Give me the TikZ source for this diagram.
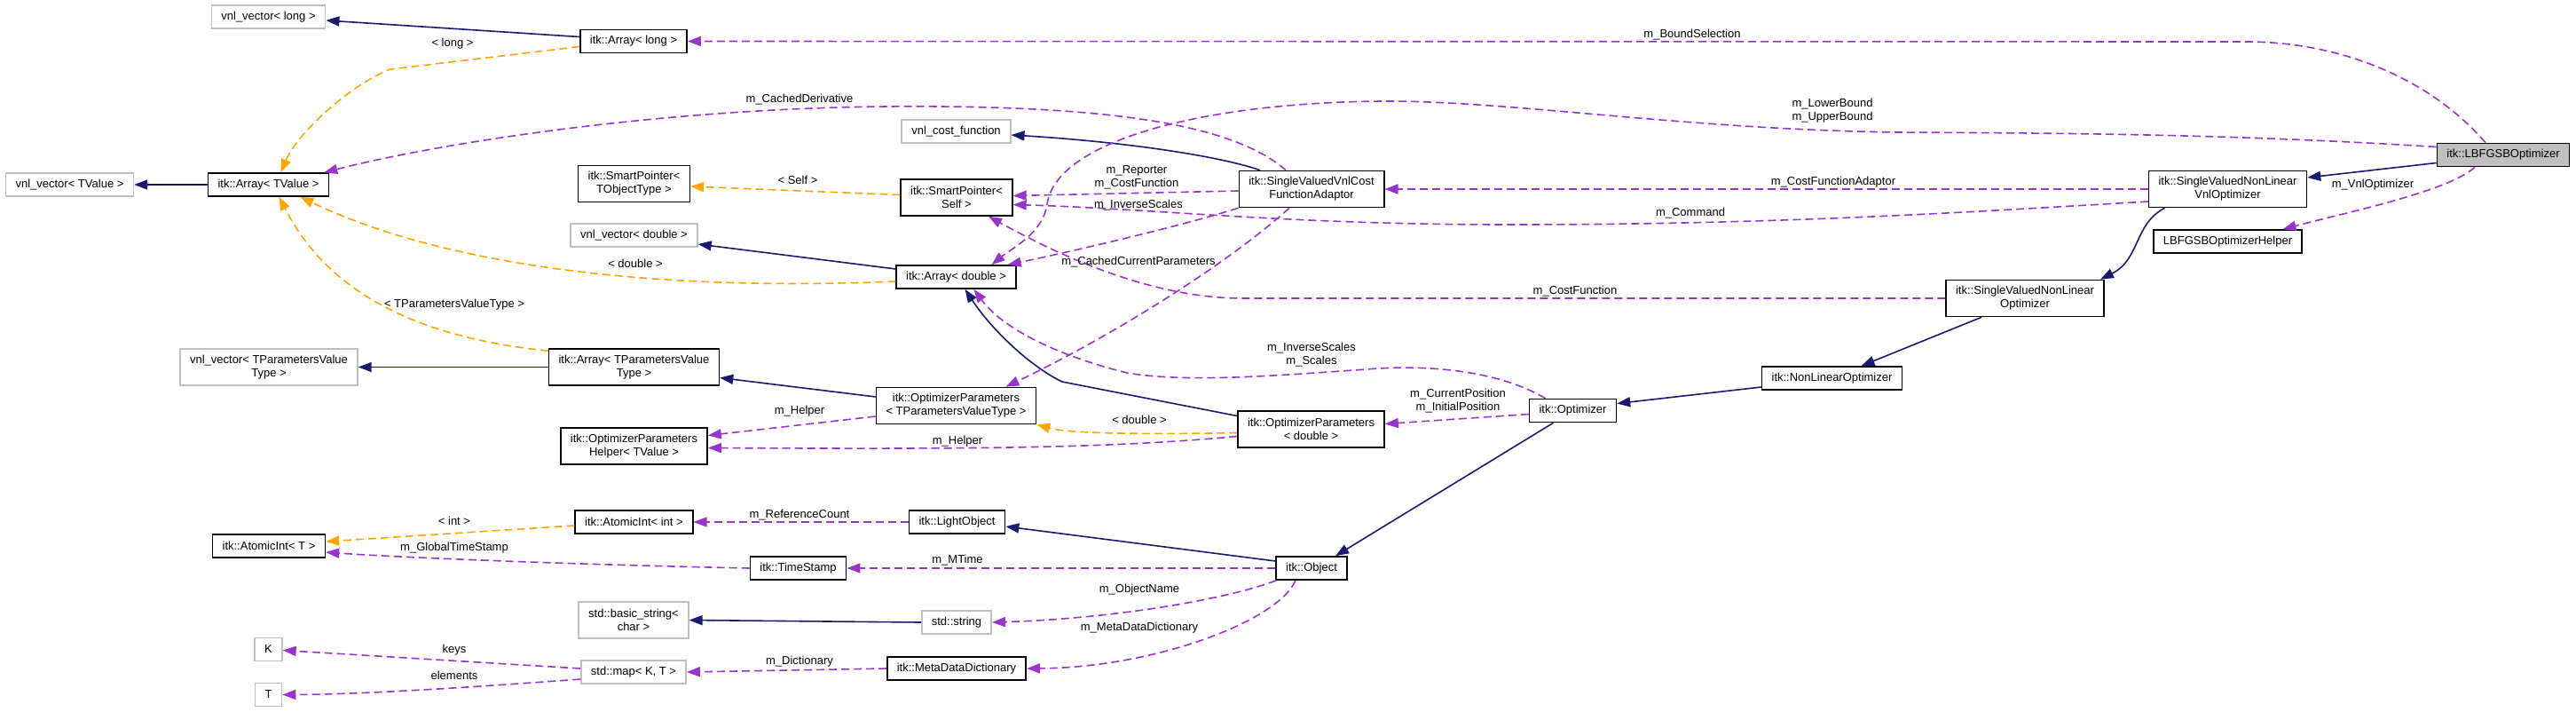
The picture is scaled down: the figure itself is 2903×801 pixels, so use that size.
\documentclass[tikz,border=0pt]{standalone}
\usepackage{fontspec}
\setmainfont{Liberation Sans}
\usetikzlibrary{arrows.meta,calc}
\definecolor{edgeblue}{HTML}{191970}
\definecolor{usepurple}{HTML}{9A32CD}
\definecolor{tplorange}{HTML}{FFA500}
\definecolor{boxgrey}{HTML}{BFBFBF}
\tikzset{
  cls/.style={draw=black, line width=1.6pt, fill=white, rectangle, align=center,
    inner xsep=11pt, inner ysep=5pt, minimum height=26pt, font=\fontsize{13}{15}\selectfont},
  ext/.style={cls, draw=boxgrey},
  two/.style={minimum height=41pt},
  inh/.style={draw=edgeblue, line width=1.6pt, -{Triangle[length=15pt,width=11pt]}},
  use/.style={draw=usepurple, line width=1.6pt, dash pattern=on 9pt off 5pt,
    -{Triangle[length=15pt,width=11pt]}},
  tpl/.style={use, draw=tplorange},
  lbl/.style={font=\fontsize{13}{15}\selectfont, align=center, inner sep=0pt}
}
\begin{document}
\begin{tikzpicture}[x=1pt,y=-1pt]
\useasboundingbox (0,0) rectangle (2903,801);
% 类框
\node[ext] (vlong) at (302.5,19) {vnl\_vector< long >};
\node[cls] (arrlong) at (714,46.5) {itk::Array< long >};
\node[ext] (vtval) at (78.5,208) {vnl\_vector< TValue >};
\node[cls] (arrtval) at (302.5,208) {itk::Array< TValue >};
\node[cls,two] (sptot) at (714.5,207) {itk::SmartPointer<\\TObjectType >};
\node[ext] (vdbl) at (714.5,265) {vnl\_vector< double >};
\node[ext] (vcost) at (1077.5,148) {vnl\_cost\_function};
\node[cls,two] (spself) at (1078,222.5) {itk::SmartPointer<\\Self >};
\node[cls] (arrdbl) at (1077.5,312) {itk::Array< double >};
\node[cls,two] (adaptor) at (1478,213) {itk::SingleValuedVnlCost\\FunctionAdaptor};
\node[ext,two] (vtpvt) at (303,413.5) {vnl\_vector< TParametersValue\\Type >};
\node[cls,two] (arrtpvt) at (714.5,413.5) {itk::Array< TParametersValue\\Type >};
\node[cls,two] (optpt) at (1077.5,457) {itk::OptimizerParameters\\< TParametersValueType >};
\node[cls,two] (optpd) at (1477.5,483.5) {itk::OptimizerParameters\\< double >};
\node[cls,two] (helper) at (714.5,502.5) {itk::OptimizerParameters\\Helper< TValue >};
\node[cls] (optim) at (1772.5,462.5) {itk::Optimizer};
\node[cls] (nlopt) at (2064.5,426) {itk::NonLinearOptimizer};
\node[cls,two] (svnlo) at (2282,336) {itk::SingleValuedNonLinear\\Optimizer};
\node[cls,two] (vnlopt) at (2510.5,213) {itk::SingleValuedNonLinear\\VnlOptimizer};
\node[cls] (lbhelp) at (2510.5,272) {LBFGSBOptimizerHelper};
\node[cls,fill=boxgrey] (lbfgsb) at (2821,174.5) {itk::LBFGSBOptimizer};
\node[cls] (atomt) at (303,615) {itk::AtomicInt< T >};
\node[cls] (atomint) at (714.5,588) {itk::AtomicInt< int >};
\node[cls] (lightobj) at (1078.5,588) {itk::LightObject};
\node[cls] (tstamp) at (899.5,640) {itk::TimeStamp};
\node[cls] (object) at (1478,640) {itk::Object};
\node[ext,two] (bstring) at (714,698.5) {std::basic\_string<\\char >};
\node[ext] (string) at (1078,701) {std::string};
\node[cls] (mdd) at (1078,753) {itk::MetaDataDictionary};
\node[ext] (stdmap) at (714,757) {std::map< K, T >};
\node[ext] (kk) at (302.5,731.5) {K};
\node[ext] (tt) at (302.5,782.5) {T};
% 继承
\draw[inh] ($(arrlong.west)+(0,-5)$) -- ($(vlong.east)+(0,4)$);
\draw[inh] (arrtval.west) -- (vtval.east);
\draw[inh] ($(adaptor.north)+(-58,0)$) .. controls (1375,176) and (1270,160) .. ($(vcost.east)+(0,4)$);
\draw[inh] ($(arrdbl.west)+(0,-9)$) -- ($(vdbl.east)+(0,10)$);
\draw[inh] (arrtpvt.west) -- (vtpvt.east);
\draw[inh] ($(optpt.west)+(0,-10)$) -- ($(arrtpvt.east)+(0,12)$);
\draw[inh] ($(optpd.west)+(0,-15)$) -- (1197,430) .. controls (1165,415) and (1120,375) .. ($(arrdbl.south)+(10,0)$);
\draw[inh] ($(lbfgsb.west)+(0,9)$) -- ($(vnlopt.east)+(0,-13)$);
\draw[inh] ($(vnlopt.south)+(-71,0)$) .. controls (2405,252) and (2412,292) .. ($(svnlo.north)+(85,0)$);
\draw[inh] ($(svnlo.south)+(-49,0)$) -- ($(nlopt.north)+(33,0)$);
\draw[inh] ($(nlopt.west)+(0,10)$) -- ($(optim.east)+(0,-8)$);
\draw[inh] ($(optim.south)+(-22,0)$) -- ($(object.north)+(27,0)$);
\draw[inh] ($(object.west)+(0,-8)$) -- ($(lightobj.east)+(0,5)$);
\draw[inh] (string.west) -- (bstring.east);
% 模板
\draw[tpl] ($(arrlong.west)+(0,6)$) -- (440,78) .. controls (395,95) and (335,150) .. ($(arrtval.north)+(14,0)$);
\draw[tpl] ($(arrdbl.west)+(0,5)$) .. controls (700,330) and (480,290) .. ($(arrtval.south)+(36,0)$);
\draw[tpl] ($(arrtpvt.north west)+(0,3)$) .. controls (470,380) and (370,330) .. ($(arrtval.south)+(12,0)$);
\draw[tpl] ($(spself.west)+(0,-3)$) -- ($(sptot.east)+(0,3)$);
\draw[tpl] ($(optpd.west)+(0,4)$) .. controls (1260,490) and (1200,487) .. (optpt.south east);
\draw[tpl] ($(atomint.west)+(0,4)$) -- ($(atomt.east)+(0,-5)$);
% 成员
\draw[use] ($(lbfgsb.north)+(-20,0)$) .. controls (2740,90) and (2640,47) .. (2531,47) -- (arrlong.east);
\draw[use] ($(lbfgsb.west)+(0,-9)$) .. controls (2500,150) and (2300,150) .. (2140,149)
  .. controls (1900,146) and (1700,113) .. (1556,114) .. controls (1350,116) and (1190,160) .. (1180,230)
  .. controls (1176,262) and (1140,280) .. ($(arrdbl.north)+(40,0)$);
\draw[use] ($(adaptor.north)+(-29,0)$) .. controls (1390,140) and (1250,118) .. (1000,120)
  .. controls (750,122) and (500,160) .. ($(arrtval.north east)+(-6,0)$);
\draw[use] ($(lbfgsb.south)+(-32,0)$) .. controls (2760,215) and (2650,238) .. ($(lbhelp.north)+(62,0)$);
\draw[use] (vnlopt.west) -- (adaptor.east);
\draw[use] ($(vnlopt.west)+(0,14)$) .. controls (2200,240) and (2000,253) .. (1700,253)
  .. controls (1450,253) and (1300,235) .. ($(spself.east)+(0,8)$);
\draw[use] ($(adaptor.west)+(0,2)$) -- ($(spself.east)+(0,-2)$);
\draw[use] (adaptor.south west) .. controls (1330,255) and (1200,285) .. ($(arrdbl.north east)+(-10,0)$);
\draw[use] ($(adaptor.south)+(-25,0)$) .. controls (1380,300) and (1250,380) .. ($(optpt.north)+(56,0)$);
\draw[use] (svnlo.west) -- (1400,336) .. controls (1290,336) and (1180,280) .. ($(spself.south)+(36,0)$);
\draw[use] ($(optim.north)+(-31,0)$) .. controls (1690,418) and (1610,410) .. (1540,416)
  .. controls (1450,422) and (1340,432) .. (1270,420) .. controls (1190,400) and (1130,370) .. ($(arrdbl.south)+(20,0)$);
\draw[use] ($(optim.west)+(0,4)$) -- ($(optpd.east)+(0,-6)$);
\draw[use] ($(optpt.west)+(0,12)$) -- ($(helper.east)+(0,-12)$);
\draw[use] ($(optpd.west)+(0,8)$) .. controls (1250,505) and (1100,506) .. ($(helper.east)+(0,2)$);
\draw[use] (lightobj.west) -- (atomint.east);
\draw[use] (tstamp.west) .. controls (650,636) and (450,628) .. ($(atomt.east)+(0,7)$);
\draw[use] (object.west) -- (tstamp.east);
\draw[use] ($(object.south west)+(1,0)$) .. controls (1380,676) and (1250,697) .. (string.east);
\draw[use] ($(object.south)+(-18,0)$) .. controls (1440,700) and (1300,752) .. (mdd.east);
\draw[use] (mdd.west) -- (stdmap.east);
\draw[use] ($(stdmap.west)+(0,-4)$) -- ($(kk.east)+(0,1)$);
\draw[use] ($(stdmap.west)+(0,8)$) .. controls (560,772) and (420,782) .. (tt.east);
% 标签
\node[lbl] (lbsel) at (1907,39) {m\_BoundSelection};
\node[lbl] (lbbound) at (2065,125) {m\_LowerBound\\m\_UpperBound};
\node[lbl] (lbderiv) at (901,112) {m\_CachedDerivative};
\node[lbl] (lblong) at (510,49) {< long >};
\node[lbl] (lbself) at (899,203) {< Self >};
\node[lbl] (lbdbl) at (716,297) {< double >};
\node[lbl] (lbtpvt) at (512,343) {< TParametersValueType >};
\node[lbl] (lbadapt) at (2066,205) {m\_CostFunctionAdaptor};
\node[lbl] (lbcmd) at (1905,240) {m\_Command};
\node[lbl] (lbvnl) at (2674,208) {m\_VnlOptimizer};
\node[lbl] (lbrep) at (1281,200) {m\_Reporter\\m\_CostFunction};
\node[lbl] (lbinv) at (1283,231) {m\_InverseScales};
\node[lbl] (lbccp) at (1283,295) {m\_CachedCurrentParameters};
\node[lbl] (lbcost) at (1775,328) {m\_CostFunction};
\node[lbl] (lbscal) at (1478,400) {m\_InverseScales\\m\_Scales};
\node[lbl] (lbpos) at (1643,452) {m\_CurrentPosition\\m\_InitialPosition};
\node[lbl] (lbdbl2) at (1284,473) {< double >};
\node[lbl] (lbhelp1) at (901,463) {m\_Helper};
\node[lbl] (lbhelp2) at (1079,497) {m\_Helper};
\node[lbl] (lbint) at (512,587) {< int >};
\node[lbl] (lbref) at (901,580) {m\_ReferenceCount};
\node[lbl] (lbglob) at (512,617) {m\_GlobalTimeStamp};
\node[lbl] (lbmtime) at (1079,631) {m\_MTime};
\node[lbl] (lbname) at (1284,664) {m\_ObjectName};
\node[lbl] (lbmdd) at (1284,707) {m\_MetaDataDictionary};
\node[lbl] (lbdict) at (901,745) {m\_Dictionary};
\node[lbl] (lbkeys) at (512,732) {keys};
\node[lbl] (lbelem) at (512,761) {elements};
\end{tikzpicture}
\end{document}
